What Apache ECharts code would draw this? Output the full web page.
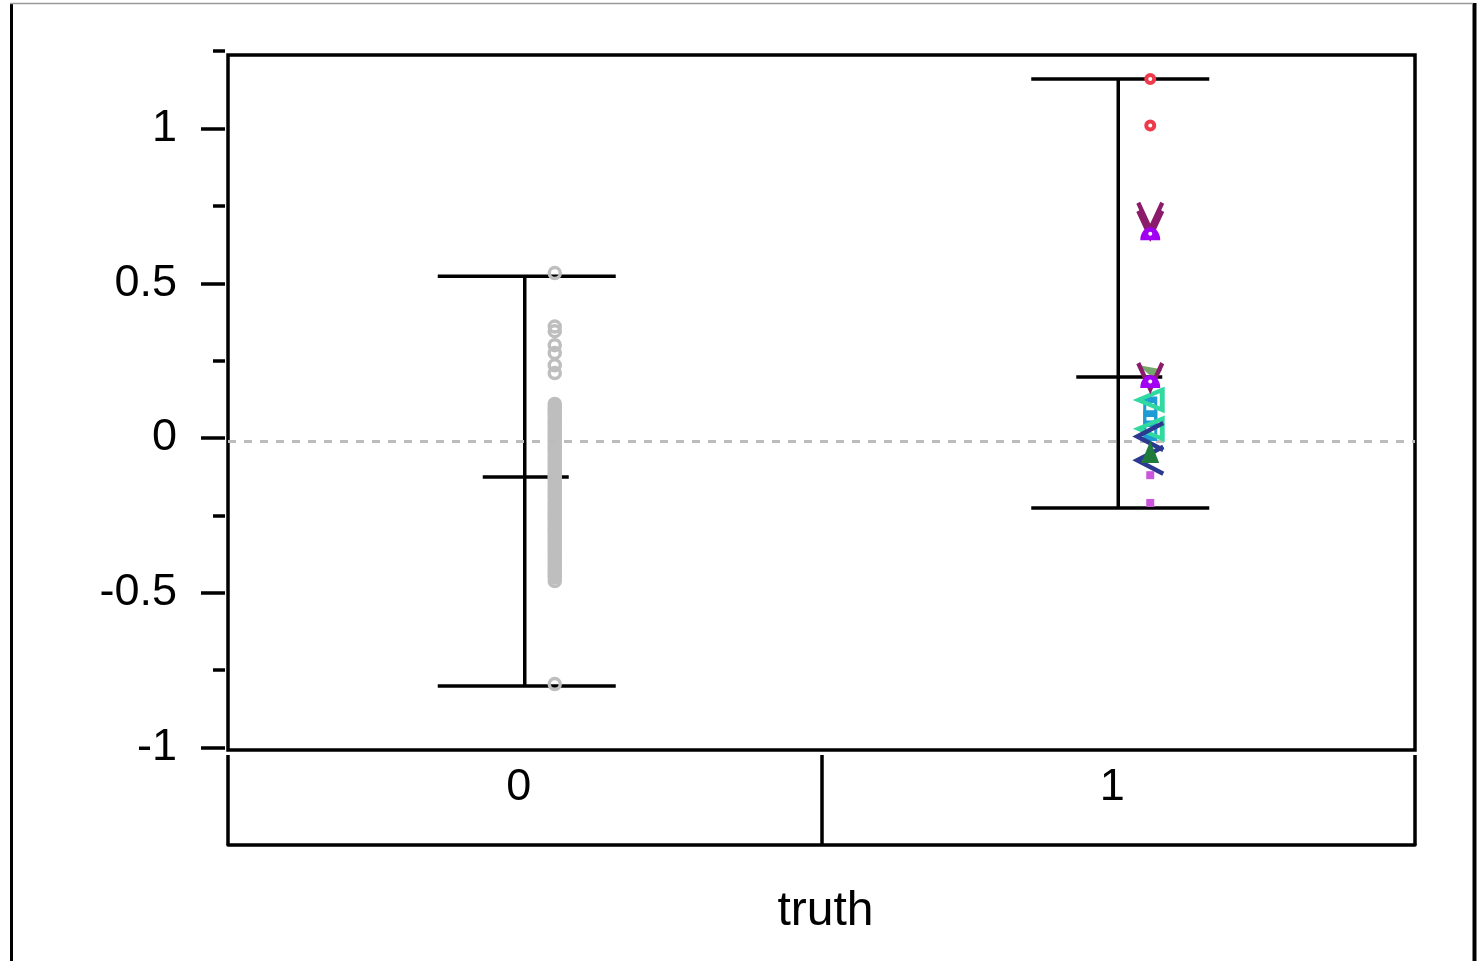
<!DOCTYPE html>
<html>
<head>
<meta charset="utf-8">
<script src="https://cdn.jsdelivr.net/npm/echarts@6.0.0/dist/echarts.min.js"></script>
<style>
  html, body { margin: 0; padding: 0; background: #fff; }
  #main { width: 1480px; height: 961px; }
</style>
</head>
<body>
<div id="main"></div>
<script>
// categorias y resumenes por grupo
var categories = ['0', '1'];
var barLow = [-0.801, -0.226];
var barMean = [-0.126, 0.197];
var barHigh = [0.523, 1.16];
var refValue = -0.01;
var yMajor = [-1, -0.5, 0, 0.5, 1];
var yMinor = [-0.75, -0.25, 0.25, 0.75, 1.25];

// grupo 0 (circulos grises)
var group0 = [0.533, 0.36, 0.345, 0.30, 0.275, 0.235, 0.21,
  0.11, 0.10, 0.092, 0.085, 0.076, 0.068, 0.058, 0.05, 0.041, 0.033, 0.024, 0.015, 0.007,
  -0.002, -0.011, -0.02, -0.028, -0.037, -0.046, -0.055, -0.063, -0.071, -0.08, -0.089,
  -0.097, -0.105, -0.113, -0.121, -0.13, -0.138, -0.146, -0.155, -0.164, -0.172, -0.181,
  -0.189, -0.197, -0.206, -0.214, -0.222, -0.231, -0.239, -0.247, -0.256, -0.264, -0.273,
  -0.281, -0.29, -0.298, -0.306, -0.315, -0.324, -0.332, -0.341, -0.349, -0.357, -0.366,
  -0.374, -0.383, -0.391, -0.4, -0.409, -0.417, -0.426, -0.434, -0.442, -0.451, -0.462,
  -0.795];

// grupo 1 (varios simbolos)
var g1Red = [1.16, 1.01];
var g1Vee = [0.718, 0.692, 0.2];
var g1Bell = [0.66, 0.183];
var g1Olive = [0.212];
var g1Teal = [0.123, 0.03];
var g1Blue = [0.085, 0.04];
var g1Navy = [0.005, -0.072];
var g1Green = [-0.045];
var g1Pink = [-0.12, -0.21];

function pts(cat, vals) {
  return vals.map(function (v) { return [cat, v]; });
}

var yMin = -1.008, yMax = 1.25;
var font = 'Liberation Sans, Arial, sans-serif';
var clear = 'rgba(0,0,0,0)';
var lw = 3.5;

function g1Series(vals, opts) {
  var s = Object.assign({
    type: 'scatter',
    xAxisIndex: 0,
    yAxisIndex: 0,
    data: pts(1, vals),
    symbolOffset: [32, 0],
    silent: true,
    z: 5
  }, opts);
  s.itemStyle = Object.assign({ opacity: 1 }, opts.itemStyle);
  return s;
}

var myChart = echarts.init(document.getElementById('main'));

var option = {
  animation: false,
  backgroundColor: '#fff',
  grid: [
    { left: 228, right: 65, top: 51.15, bottom: 211, show: false },
    { left: 228, right: 65, top: 55, bottom: 211, show: true, borderColor: '#000', borderWidth: lw, backgroundColor: 'transparent' }
  ],
  xAxis: [
    {
      type: 'category', gridIndex: 0, data: categories, position: 'bottom', offset: 5,
      axisLine: { show: false, onZero: false },
      axisTick: { show: true, interval: 0, length: 90, lineStyle: { color: '#000', width: lw } },
      axisLabel: { fontSize: 45, color: '#000', fontFamily: font, margin: 10, padding: [0, 12, 0, 0] },
      name: 'truth', nameLocation: 'middle', nameGap: 133,
      nameTextStyle: { fontSize: 48, color: '#000', fontFamily: font, padding: [0, 0, 0, 8] },
      splitLine: { show: false }
    },
    {
      type: 'category', gridIndex: 0, data: categories, position: 'bottom', offset: 95,
      axisLine: { show: true, onZero: false, lineStyle: { color: '#000', width: lw } },
      axisTick: { show: false }, axisLabel: { show: false }, splitLine: { show: false }
    },
    { type: 'category', gridIndex: 1, data: categories, show: false }
  ],
  yAxis: [
    {
      type: 'value', gridIndex: 0, min: yMin, max: yMax, position: 'left', offset: 3,
      axisLine: { show: false },
      axisTick: { show: true, length: 24, customValues: yMajor, lineStyle: { color: '#000', width: lw } },
      axisLabel: { fontSize: 45, color: '#000', fontFamily: font, margin: 48, customValues: yMajor },
      splitLine: { show: false }
    },
    {
      type: 'value', gridIndex: 0, min: yMin, max: yMax, position: 'left', offset: 3,
      axisLine: { show: false },
      axisTick: { show: true, length: 12, customValues: yMinor, lineStyle: { color: '#000', width: lw } },
      axisLabel: { show: false }, splitLine: { show: false }
    },
    { type: 'value', gridIndex: 1, min: yMin, max: 1.2375, show: false, splitLine: { show: false } }
  ],
  graphic: [
    { type: 'line', shape: { x1: 11.5, y1: 3, x2: 11.5, y2: 961 }, style: { stroke: '#000', lineWidth: 3 } },
    { type: 'line', shape: { x1: 1474.5, y1: 3, x2: 1474.5, y2: 961 }, style: { stroke: '#000', lineWidth: 4 } },
    { type: 'line', shape: { x1: 10, y1: 3.5, x2: 1473, y2: 3.5 }, style: { stroke: '#9a9a9a', lineWidth: 1.5 } }
  ],
  series: [
    {
      type: 'custom',
      xAxisIndex: 0, yAxisIndex: 0,
      silent: true,
      z: 3,
      data: categories.map(function (c, i) { return [i, barLow[i], barMean[i], barHigh[i]]; }),
      encode: { x: 0, y: [1, 2, 3] },
      renderItem: function (params, api) {
        var lo = api.coord([api.value(0), api.value(1)]);
        var mid = api.coord([api.value(0), api.value(2)]);
        var hi = api.coord([api.value(0), api.value(3)]);
        var st = { stroke: '#000', lineWidth: lw };
        return {
          type: 'group',
          children: [
            { type: 'line', shape: { x1: hi[0], y1: hi[1], x2: lo[0], y2: lo[1] }, style: st },
            { type: 'line', shape: { x1: hi[0] - 87, y1: hi[1], x2: hi[0] + 91, y2: hi[1] }, style: st },
            { type: 'line', shape: { x1: lo[0] - 87, y1: lo[1], x2: lo[0] + 91, y2: lo[1] }, style: st },
            { type: 'line', shape: { x1: mid[0] - 42, y1: mid[1], x2: mid[0] + 44, y2: mid[1] }, style: st }
          ]
        };
      },
      markLine: {
        silent: true,
        symbol: 'none',
        label: { show: false },
        lineStyle: { color: '#bcbcbc', type: [8, 8], width: 3, opacity: 1 },
        data: [{ yAxis: refValue }]
      }
    },
    {
      type: 'scatter', xAxisIndex: 0, yAxisIndex: 0,
      data: pts(0, group0),
      symbol: 'circle', symbolSize: 11, symbolOffset: [30, 0],
      itemStyle: { color: clear, borderColor: '#bebebe', borderWidth: 3.5, opacity: 1 },
      silent: true, z: 4
    },
    g1Series(g1Red, { symbol: 'circle', symbolSize: 8, itemStyle: { color: '#fff', borderColor: '#ee3b4b', borderWidth: 4 } }),
    g1Series(g1Blue, { symbol: 'rect', symbolSize: [11, 24], itemStyle: { color: clear, borderColor: '#1e9bd4', borderWidth: 4.5 } }),
    g1Series(g1Teal, { symbol: 'path://M10,0 L0,5 L10,10 Z', symbolSize: [24, 20], itemStyle: { color: clear, borderColor: '#2fd9a0', borderWidth: 4.5 } }),
    g1Series(g1Navy, { symbol: 'path://M10,0 L0,5 L10,10', symbolSize: [26, 27], itemStyle: { color: clear, borderColor: '#2b3990', borderWidth: 4.5 } }),
    g1Series(g1Green, { symbol: 'triangle', symbolSize: [18, 22], itemStyle: { color: '#1e7b3c' } }),
    g1Series(g1Olive, { symbol: 'path://M0,0 L10,3 L7,10 Z', symbolSize: [24, 15], itemStyle: { color: 'rgba(94,152,80,0.85)' } }),
    g1Series(g1Vee, { symbol: 'path://M0,0 L5,10 L10,0', symbolSize: [24, 26], itemStyle: { color: clear, borderColor: '#8b1c6c', borderWidth: 4.5 } }),
    g1Series(g1Bell, { symbol: 'path://M0,10 C0,3 3,0 5,0 C7,0 10,3 10,10 Z', symbolSize: [20, 13], itemStyle: { color: '#a100f2' } }),
    g1Series(g1Bell, { symbol: 'circle', symbolSize: 4, itemStyle: { color: '#fff' }, z: 6 }),
    g1Series(g1Pink, { symbol: 'rect', symbolSize: 8, itemStyle: { color: '#cc55dd' } })
  ]
};

myChart.setOption(option);
</script>
</body>
</html>
